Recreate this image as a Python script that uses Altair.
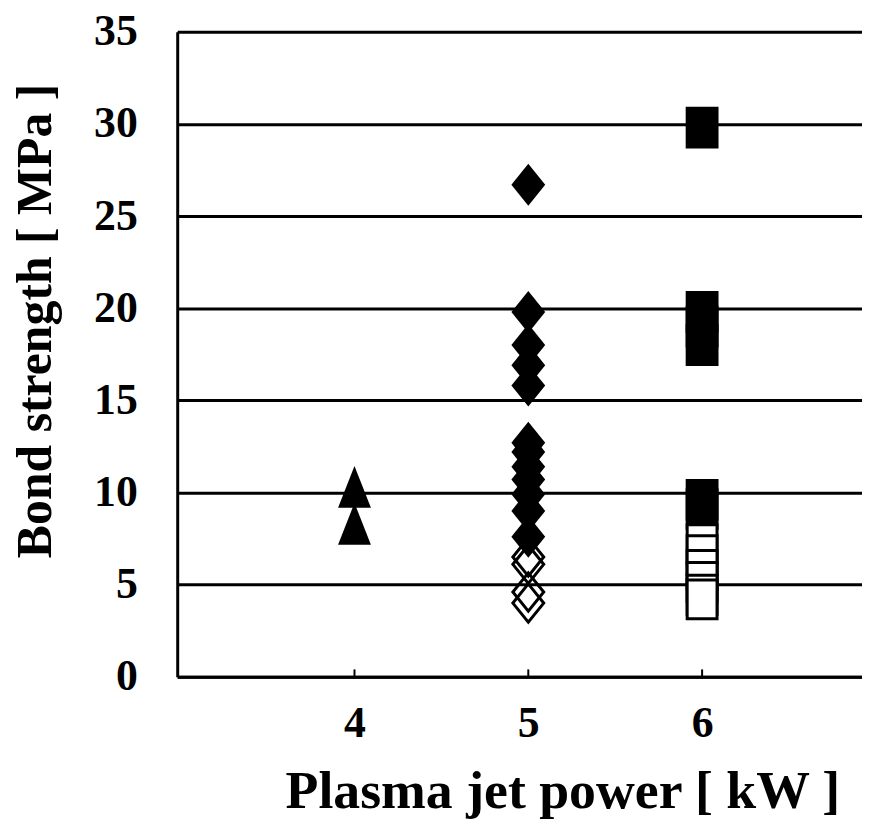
import altair as alt
import pandas as pd

# ---- data ----
x_ticks = [4, 5, 6]
y_ticks = [0, 5, 10, 15, 20, 25, 30, 35]

tri_power = [4, 4]
tri_strength = [10.3, 8.3]

dia_filled_power = [5] * 12
dia_filled_strength = [26.7, 19.8, 18.0, 16.9, 15.8, 12.7, 12.2, 11.4, 10.7, 9.9, 9.0, 7.6]

dia_open_power = [5] * 4
dia_open_strength = [6.5, 6.1, 4.6, 4.0]

sq_filled_power = [6] * 6
sq_filled_strength = [29.8, 19.8, 19.0, 18.0, 9.6, 9.1]

sq_open_power = [6] * 6
sq_open_strength = [7.2, 6.6, 5.8, 5.15, 4.45, 4.2]

FONT = "Liberation Serif"

tri_df = pd.DataFrame({"power": tri_power, "strength": tri_strength})
dia_f_df = pd.DataFrame({"power": dia_filled_power, "strength": dia_filled_strength})
dia_o_df = pd.DataFrame({"power": dia_open_power, "strength": dia_open_strength})
sq_f_df = pd.DataFrame({"power": sq_filled_power, "strength": sq_filled_strength})
sq_o_df = pd.DataFrame({"power": sq_open_power, "strength": sq_open_strength})
sq_o_df["ord"] = range(len(sq_o_df))
tick_df = pd.DataFrame({"power": x_ticks, "y0": [0] * 3, "y1": [0.4] * 3})

x_scale = alt.Scale(domain=[2.98, 6.92], nice=False, zero=False)
y_scale = alt.Scale(domain=[0, 35], nice=False)

x_axis = alt.Axis(
    values=x_ticks, ticks=False, grid=False,
    domainColor="black", domainWidth=3,
    labelFont=FONT, labelFontSize=44, labelFontWeight="bold", labelColor="black",
    labelPadding=25,
    title="Plasma jet power [ kW ]",
    titleFont=FONT, titleFontSize=54, titleFontWeight="bold", titleColor="black",
    titleX=387, titleY=131, titleAlign="center", titleBaseline="alphabetic",
)
y_axis = alt.Axis(
    values=y_ticks, ticks=False, grid=True, gridColor="black", gridWidth=3,
    domainColor="black", domainWidth=3,
    labelFont=FONT, labelFontSize=44, labelFontWeight="bold", labelColor="black",
    labelPadding=40,
    title="Bond strength [ MPa ]",
    titleFont=FONT, titleFontSize=50, titleFontWeight="bold", titleColor="black",
    titleX=-127, titleY=290, titleAlign="center", titleBaseline="alphabetic",
)

def xenc():
    return alt.X("power:Q", scale=x_scale, axis=x_axis)

def yenc(field="strength"):
    return alt.Y(f"{field}:Q", scale=y_scale, axis=y_axis)

TRI = "M0,-1.27L1,1.27L-1,1.27Z"
DIA = "M0,-1.24L1,0L0,1.24L-1,0Z"
SQ = "M-1,-1.27H1V1.27H-1Z"
SQ_O = "M-1,-1.3H1V1.3H-1Z"

tri = alt.Chart(tri_df).mark_point(shape=TRI, size=1089, filled=True, color="black", opacity=1).encode(
    x=xenc(), y=yenc())
dia_f = alt.Chart(dia_f_df).mark_point(shape=DIA, size=1156, filled=True, color="black", opacity=1).encode(
    x=xenc(), y=yenc())
dia_o = alt.Chart(dia_o_df).mark_point(shape=DIA, size=961, filled=False, color="black",
                                      strokeWidth=3, opacity=1).encode(x=xenc(), y=yenc())
sq_f = alt.Chart(sq_f_df).mark_point(shape=SQ, size=1089, filled=True, color="black", opacity=1).encode(
    x=xenc(), y=yenc())
sq_o = alt.Chart(sq_o_df).mark_point(shape=SQ_O, size=900, fill="white", stroke="black",
                                     strokeWidth=3, opacity=1, fillOpacity=1).encode(
    x=xenc(), y=yenc(), order=alt.Order("ord:Q"))
ticks = alt.Chart(tick_df).mark_rule(color="black", strokeWidth=2).encode(
    x=xenc(), y=yenc("y0"), y2="y1:Q")

chart = alt.layer(ticks, tri, dia_f, dia_o, sq_f, sq_o).properties(
    width=688, height=648,
    autosize=alt.AutoSizeParams(type="none"),
    padding={"left": 170, "top": 22, "right": 0, "bottom": 145},
    background="white",
).configure_view(strokeWidth=0)

chart.save("out.html", embed_options={"renderer": "svg", "actions": False})
